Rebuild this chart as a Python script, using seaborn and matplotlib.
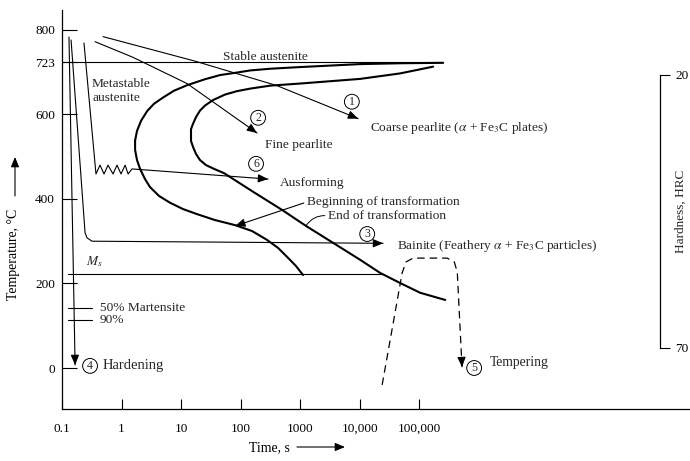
import numpy as np
import pandas as pd
import matplotlib
matplotlib.use("Agg")
import matplotlib.pyplot as plt
from matplotlib.ticker import NullLocator
import seaborn as sns

# Isothermal transformation (TTT) diagram of a eutectoid steel with several
# heat-treatment paths.  Times are in seconds, temperatures in degrees C.

# ---- axis ticks --------------------------------------------------------
time_ticks = [0.1, 1, 10, 100, 1000, 10000, 100000]
time_tick_labels = ["0.1", "1", "10", "100", "1000", "10,000", "100,000"]
temp_ticks = [0, 200, 400, 600, 723, 800]
temp_tick_labels = ["0", "200", "400", "600", "723", "800"]
hrc_ticks = [20, 70]
hrc_tick_labels = ["20", "70"]

# ---- reference temperatures -------------------------------------------
eutectoid_T = 723
eutectoid_t = [0.1, 253000]
ms_T = 222
ms_t = [0.126, 23900]
m50_T = 142
m90_T = 114
mart_tick_t = [0.126, 0.319]

# ---- transformation curves --------------------------------------------
start_t = [253000, 48000, 10200, 1000, 313, 145, 87, 45, 25, 12.6, 7.6,
           5.0, 3.5, 2.7, 2.13, 1.82, 1.69, 1.69, 1.82, 2.05, 2.48, 3.01,
           4.27, 6.53, 10.8, 18.6, 37.2, 81, 156, 279, 427, 603, 857, 1120]
start_T = [722, 721, 719, 712, 708, 704, 699, 693, 683, 669, 656,
           640, 625, 608, 585, 561, 538, 516, 492, 471, 447, 428,
           407, 391, 376, 364, 350, 338, 324, 303, 284, 263, 241, 220]

finish_t = [172000, 48000, 10200, 1000, 313, 145, 87, 55, 34.5, 25.3, 20.8,
            17.9, 15.9, 14.7, 14.7, 14.7, 15.9, 17.9, 20.8, 26.3, 35.9,
            52.8, 162, 498, 1260, 3590, 10200, 22100, 48000, 104000, 274000]
finish_T = [713, 697, 684, 673, 668, 661, 655, 647, 634, 621, 609,
            594, 578, 565, 552, 537, 523, 506, 492, 480, 471,
            461, 417, 374, 336, 296, 256, 225, 201, 178, 161]

# ---- cooling / heat-treatment paths -----------------------------------
coarse_t = [0.489, 17.2, 410, 9440]          # path 1
coarse_T = [784, 726, 668, 590]
fine_t = [0.359, 1.56, 12.6, 189]            # path 2
fine_T = [772, 735, 673, 556]
bainite_t = [0.142, 0.244, 0.263, 0.319, 24800]   # path 3
bainite_T = [776, 320, 308, 300, 295]
harden_t = [0.131, 0.166]                    # path 4
harden_T = [783, 7]
temper_t = [23900, 51800, 60300, 79000, 295000, 389000, 437000, 525000]  # path 5
temper_T = [-40, 225, 251, 260, 260, 251, 227, 2]
ausform_t = [0.234, 0.372, 0.435, 0.508, 0.593, 0.72, 0.84, 0.98, 1.15,
             1.29, 1.50, 290]                # path 6
ausform_T = [769, 459, 480, 459, 480, 459, 480, 459, 480, 459, 471, 447]

# ---- style ---------------------------------------------------------------
sns.set_theme(style="ticks")
plt.rcParams["font.family"] = ["Liberation Serif", "DejaVu Serif"]
plt.rcParams["mathtext.fontset"] = "stix"

W, H = 690, 461
fig = plt.figure(figsize=(W / 100, H / 100), dpi=100)
fig.patch.set_facecolor("white")
ax = fig.add_axes([62 / W, 1 - 409 / H, 628 / W, 399 / H])
ax.set_facecolor("white")
ax.set_xscale("log")
XLIM = (0.1, 10 ** 9.55)
YLIM = (-97, 847)
ax.set_xlim(*XLIM)
ax.set_ylim(*YLIM)

THIN, THICK = 0.8, 1.5


def draw(t, T, lw=THIN, ls="-"):
    df = pd.DataFrame({"time": t, "temp": T})
    sns.lineplot(data=df, x="time", y="temp", sort=False, estimator=None,
                 color="black", linewidth=lw, linestyle=ls, ax=ax)


ARROW = dict(arrowstyle="-|>,head_length=0.6,head_width=0.25",
             color="black", lw=THIN, shrinkA=0, shrinkB=0, mutation_scale=10)


def head(t, T):
    """Arrowhead at the last point of a path, along its last segment."""
    p1 = ax.transData.transform((t[-1], T[-1]))
    p0 = ax.transData.transform((t[-2], T[-2]))
    d = (p1 - p0) / np.hypot(*(p1 - p0))
    start = ax.transData.inverted().transform(p1 - 3 * d)
    ax.annotate("", xy=(t[-1], T[-1]), xytext=tuple(start), arrowprops=ARROW)


def circled(label, t, T):
    ax.text(t, T, label, ha="center", va="center", fontsize=8.5,
            bbox=dict(boxstyle="circle,pad=0.12", fc="none", ec="black", lw=0.7))


# reference lines
draw(eutectoid_t, [eutectoid_T] * 2)
draw(ms_t, [ms_T] * 2)
draw(mart_tick_t, [m50_T] * 2)
draw(mart_tick_t, [m90_T] * 2)

# C-curves
draw(start_t, start_T, lw=THICK)
draw(finish_t, finish_T, lw=THICK)

# paths
draw(coarse_t, coarse_T)
draw(fine_t, fine_T)
draw(bainite_t, bainite_T)
draw(harden_t, harden_T)
draw(ausform_t, ausform_T)
draw(temper_t, temper_T, lw=0.9, ls=(0, (6, 4)))

ax.set_xlim(*XLIM)
ax.set_ylim(*YLIM)
for t, T in [(coarse_t, coarse_T), (fine_t, fine_T), (bainite_t, bainite_T),
             (harden_t, harden_T), (ausform_t, ausform_T), (temper_t, temper_T)]:
    head(t, T)

# labels inside the diagram
FS = 9.6
ax.text(51, 735, "Stable austenite", fontsize=FS, ha="left", va="center")
ax.text(0.32, 655, "Metastable\naustenite", fontsize=FS, ha="left", va="center",
        linespacing=1.15)
circled("1", 7400, 630)
ax.text(15000, 568, r"Coarse pearlite ($\alpha$ + Fe$_3$C plates)", fontsize=FS,
        ha="left", va="center")
circled("2", 197, 592)
ax.text(257, 528, "Fine pearlite", fontsize=FS, ha="left", va="center")
circled("6", 182, 483)
ax.text(461, 438, "Ausforming", fontsize=FS, ha="left", va="center")
ax.annotate("Beginning of transformation", xy=(81, 336), xytext=(1310, 393),
            fontsize=FS, ha="left", va="center",
            arrowprops=dict(ARROW, relpos=(0, 0.5)))
ax.annotate("End of transformation", xy=(1260, 337), xytext=(2950, 360),
            fontsize=FS, ha="left", va="center",
            arrowprops=dict(arrowstyle="-", color="black", lw=0.7, shrinkA=0,
                            shrinkB=0, relpos=(0, 0.5),
                            connectionstyle="arc3,rad=0.3"))
circled("3", 13400, 317)
ax.text(42700, 289, r"Bainite (Feathery $\alpha$ + Fe$_3$C particles)",
        fontsize=FS, ha="left", va="center")
ax.text(0.253, 251, r"$M_s$", fontsize=FS, ha="left", va="center")
ax.text(0.435, 142, "50% Martensite", fontsize=FS, ha="left", va="center")
ax.text(0.435, 114, "90%", fontsize=FS, ha="left", va="center")
circled("4", 0.296, 5)
ax.text(0.489, 5, "Hardening", fontsize=10.5, ha="left", va="center")
circled("5", 840000, 0)
ax.text(1.55e6, 12, "Tempering", fontsize=9.8, ha="left", va="center")

# ---- main axes -----------------------------------------------------------
sns.despine(ax=ax)
for s in ["left", "bottom"]:
    ax.spines[s].set_linewidth(0.9)
    ax.spines[s].set_color("black")
ax.set_xticks(time_ticks, time_tick_labels)
ax.xaxis.set_minor_locator(NullLocator())
ax.set_yticks(temp_ticks, temp_tick_labels)
ax.tick_params(axis="x", direction="in", length=7, width=0.8, pad=10,
               labelsize=9.5, colors="black")
ax.tick_params(axis="y", direction="in", length=11, width=0.8, pad=5,
               labelsize=9.5, colors="black")
ax.set_xlabel("Time, s", fontsize=10, color="black")
ax.xaxis.set_label_coords(0.33, -0.08)
ax.set_ylabel("Temperature, \u00b0C", fontsize=10, color="black")
ax.yaxis.set_label_coords(-0.067, 0.388)


def fig_arrow(x0, y0, x1, y1):
    ax.annotate("", xy=(x1 / W, 1 - y1 / H), xytext=(x0 / W, 1 - y0 / H),
                xycoords="figure fraction", textcoords="figure fraction",
                arrowprops=ARROW)


fig_arrow(297, 447, 345, 447)
fig_arrow(15, 196, 15, 157)

# ---- hardness scale ------------------------------------------------------
hx = fig.add_axes([660 / W, 1 - 348 / H, 0.0001, (348 - 75) / H])
hx.set_ylim(70, 20)
hx.set_yticks(hrc_ticks, hrc_tick_labels)
hx.set_xticks([])
for s in ["top", "right", "bottom"]:
    hx.spines[s].set_visible(False)
hx.spines["left"].set_linewidth(0.9)
hx.spines["left"].set_color("black")
hx.patch.set_visible(False)
hx.tick_params(axis="y", left=True, right=False, labelleft=False,
               labelright=True, direction="in", length=7, width=0.8, pad=11,
               labelsize=9.5, colors="black")
fig.text(681 / W, 1 - 211 / H, "Hardness, HRC", rotation=90, ha="center",
         va="center", fontsize=9.5)

fig.savefig("out.png", dpi=100, facecolor="white")
